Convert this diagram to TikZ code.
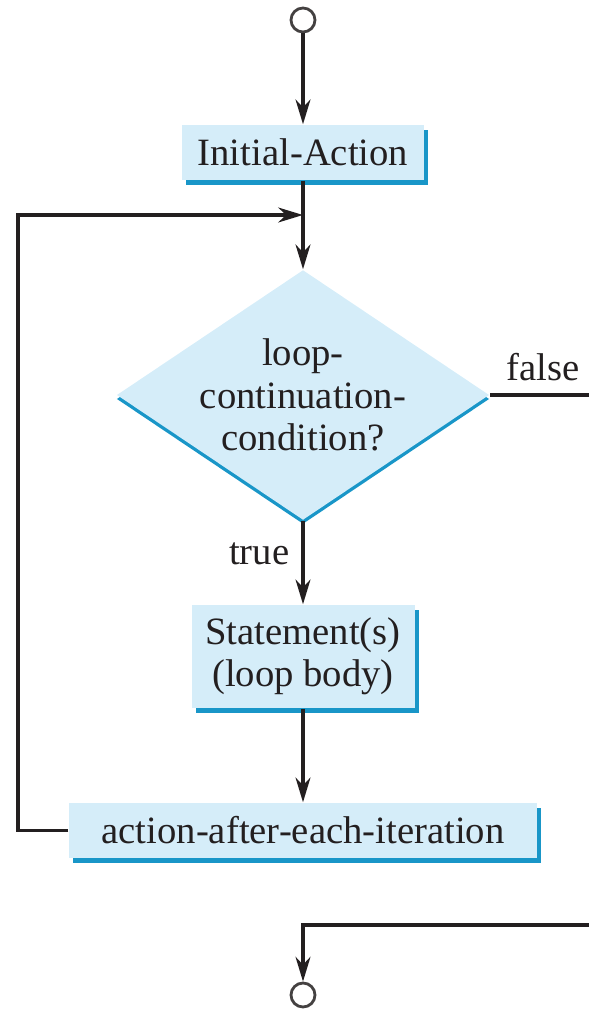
\documentclass[tikz,border=0pt]{standalone}
\usepackage{fontspec}
\setmainfont{Liberation Serif}
\usepackage{tikz}
\usetikzlibrary{arrows.meta,shapes.geometric,shadows}
\definecolor{boxfill}{RGB}{213,237,249}
\definecolor{boxedge}{RGB}{25,150,200}
\definecolor{ink}{RGB}{35,31,32}

\begin{document}
\begin{tikzpicture}[
  box/.style={fill=boxfill, inner sep=0pt, align=center, text=ink,
              font=\fontsize{11}{12}\selectfont,
              drop shadow={shadow xshift=0.04cm, shadow yshift=-0.05cm,
                           fill=boxedge, opacity=1}},
  cond/.style={diamond, fill=boxfill, inner sep=0pt, align=center, text=ink,
               aspect=1.49, font=\fontsize{11}{12}\selectfont,
               drop shadow={shadow xshift=0cm, shadow yshift=-0.04cm,
                            fill=boxedge, opacity=1}},
  term/.style={circle, draw=ink!85, line width=0.8pt, minimum size=0.24cm, inner sep=0pt},
  lbl/.style={font=\fontsize{11}{12}\selectfont, text=ink},
  line/.style={line width=1.1pt, draw=ink},
  arr/.style={line, -{Stealth[length=7pt,width=4.2pt,inset=2.2pt]}}
]
  \useasboundingbox (0,0) rectangle (5.88,-10.10);

  \node[term] (start) at (3.03,-0.20) {};
  \node[box, minimum width=2.42cm, minimum height=0.55cm] (init) at (3.03,-1.525) {Initial-Action};
  \node[cond, minimum width=3.51cm, minimum height=2.36cm] (loop) at (3.03,-3.95)
       {loop-\\continuation-\\condition?};
  \node[box, minimum width=2.23cm, minimum height=1.03cm] (body) at (3.03,-6.565)
       {Statement(s)\\(loop body)};
  \node[box, minimum width=4.68cm, minimum height=0.55cm] (iter) at (3.03,-8.305)
       {action-after-each-iteration};
  \node[term] (stop) at (3.03,-9.95) {};

  \coordinate (merge)  at (3.03,-2.15);
  \coordinate (corner) at (0.18,-2.15);
  \coordinate (fout)   at (6.00,-3.95);
  \coordinate (fin)    at (6.00,-9.25);

  \draw[arr] (start) -- (init);
  \draw[arr] (init) -- (loop);
  \draw[arr] (iter.west) -| (corner) -- (merge);
  \draw[line] (loop.east) -- node[lbl, above, pos=0.48]{false} (fout);
  \draw[arr] (loop.south) -- node[lbl, left, pos=0.4]{true} (body.north);
  \draw[arr] (body) -- (iter);
  \draw[arr] (fin) -| (stop.north);
\end{tikzpicture}
\end{document}
